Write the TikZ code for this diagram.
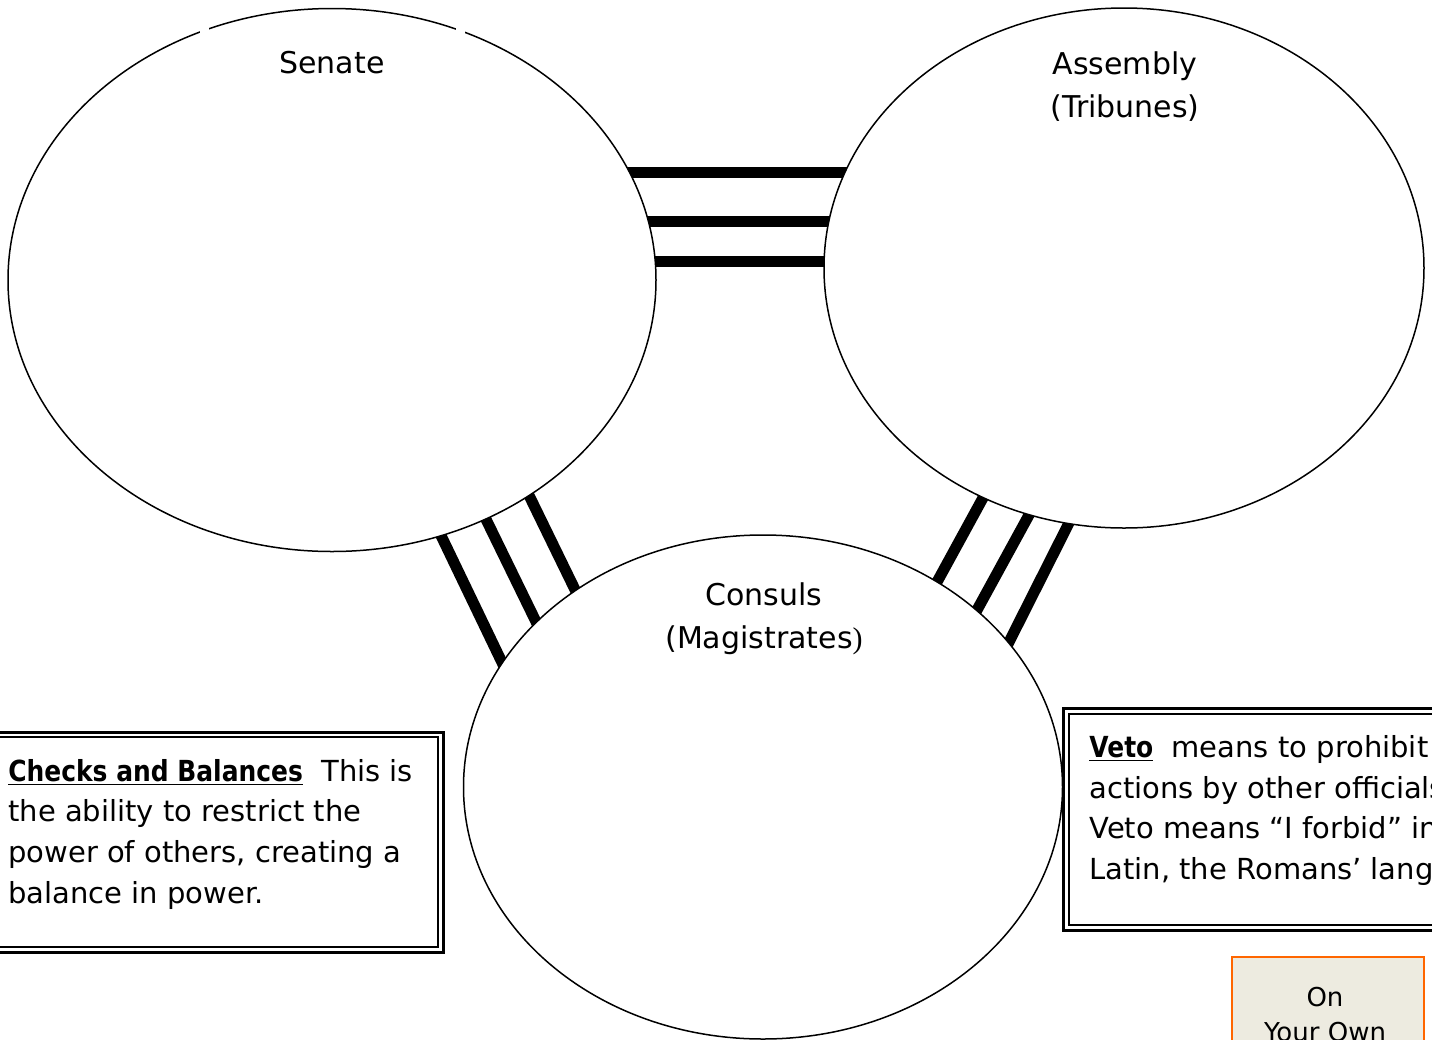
\documentclass[tikz,border=0pt]{standalone}
\usepackage{fontspec}
\setmainfont{DejaVu Sans}
\newfontfamily\serifpar{Liberation Serif}
\usetikzlibrary{shapes.geometric}
\definecolor{onorange}{HTML}{FF6600}
\definecolor{onbeige}{HTML}{EDEBE0}
\tikzset{
  oval/.style={ellipse, draw=black, fill=white, line width=0.75pt, inner sep=0pt, outer sep=0pt},
  bar/.style={line width=5.5pt, black},
  lbl/.style={font=\fontsize{15}{18}\selectfont, inner sep=0pt, anchor=base},
  txt/.style={font=\fontsize{14.5}{18}\selectfont, inner sep=0pt, anchor=base west},
  outerframe/.style={draw=black, line width=1.5pt, fill=white},
  innerframe/.style={draw=black, line width=0.6pt},
}
\newcommand{\boldterm}[1]{\scalebox{0.86}[1]{\underline{\textbf{#1}}}}
\begin{document}
\begin{tikzpicture}[x=0.5pt,y=-0.5pt]
\useasboundingbox (0,0) rectangle (1432,1040);
\clip (0,0) rectangle (1432,1040);
% bar end points
\coordinate (h1a) at (615,172); \coordinate (h1b) at (860,172);
\coordinate (h2a) at (630,221.5); \coordinate (h2b) at (850,221.5);
\coordinate (h3a) at (640,261.5); \coordinate (h3b) at (845,261.5);
\coordinate (l1a) at (435,523); \coordinate (l1b) at (509,677);
\coordinate (l2a) at (481,509); \coordinate (l2b) at (542,634);
\coordinate (l3a) at (523,483); \coordinate (l3b) at (582,604);
\coordinate (r1a) at (990,485); \coordinate (r1b) at (931,593);
\coordinate (r2a) at (1035,504); \coordinate (r2b) at (971,621);
\coordinate (r3a) at (1075,511); \coordinate (r3b) at (1005,650);
\draw[bar] (h1a) -- (h1b);
\draw[bar] (h2a) -- (h2b);
\draw[bar] (h3a) -- (h3b);
\draw[bar] (l1a) -- (l1b);
\draw[bar] (l2a) -- (l2b);
\draw[bar] (l3a) -- (l3b);
\draw[bar] (r1a) -- (r1b);
\draw[bar] (r2a) -- (r2b);
\draw[bar] (r3a) -- (r3b);
% ellipses
\node[oval, minimum width=324pt, minimum height=271.5pt] (senate) at (332,280) {};
\node[oval, minimum width=300pt, minimum height=260pt] (assembly) at (1124,268) {};
\node[oval, minimum width=299.5pt, minimum height=252pt] (consuls) at (763,787) {};
% small gaps in senate outline
\fill[white] (200,26) rectangle (209,36);
\fill[white] (456,26) rectangle (465,36);
% labels
\node[lbl] (senatelbl) at (332,73) {Senate};
\node[lbl] (assemblylbl) at (1125,74) {Assembly};
\node[lbl] (tribuneslbl) at (1125,117) {(Tribunes)};
\node[lbl] (consulslbl) at (764,605) {Consuls};
\node[lbl] (magistrateslbl) at (764,648) {(Magistrates{\serifpar)}};
% checks and balances box
\draw[outerframe] (-10,732) rectangle (443,952);
\draw[innerframe] (-10,737) rectangle (438,947);
\node[txt] (cb1) at (8,781) {\boldterm{Checks and Balances}\ \ This is};
\node[txt] (cb2) at (8,821) {the ability to restrict the};
\node[txt] (cb3) at (8,862) {power of others, creating a};
\node[txt] (cb4) at (8,903) {balance in power.};
% veto box
\draw[outerframe] (1063,708) rectangle (1450,930);
\draw[innerframe] (1069,714) rectangle (1450,925);
\node[txt] (v1) at (1089,757) {\boldterm{Veto}\ \ means to prohibit the};
\node[txt] (v2) at (1089,798) {actions by other officials.};
\node[txt] (v3) at (1089,838) {Veto means “I forbid” in};
\node[txt] (v4) at (1089,879) {Latin, the Romans’ language.};
% on your own box
\draw[draw=onorange, fill=onbeige, line width=1pt] (1232,957) rectangle (1424,1060);
\node[lbl, font=\fontsize{13}{16}\selectfont] (on1) at (1325,1006) {On};
\node[lbl, font=\fontsize{13}{16}\selectfont] (on2) at (1325,1041) {Your Own};
\end{tikzpicture}
\end{document}
